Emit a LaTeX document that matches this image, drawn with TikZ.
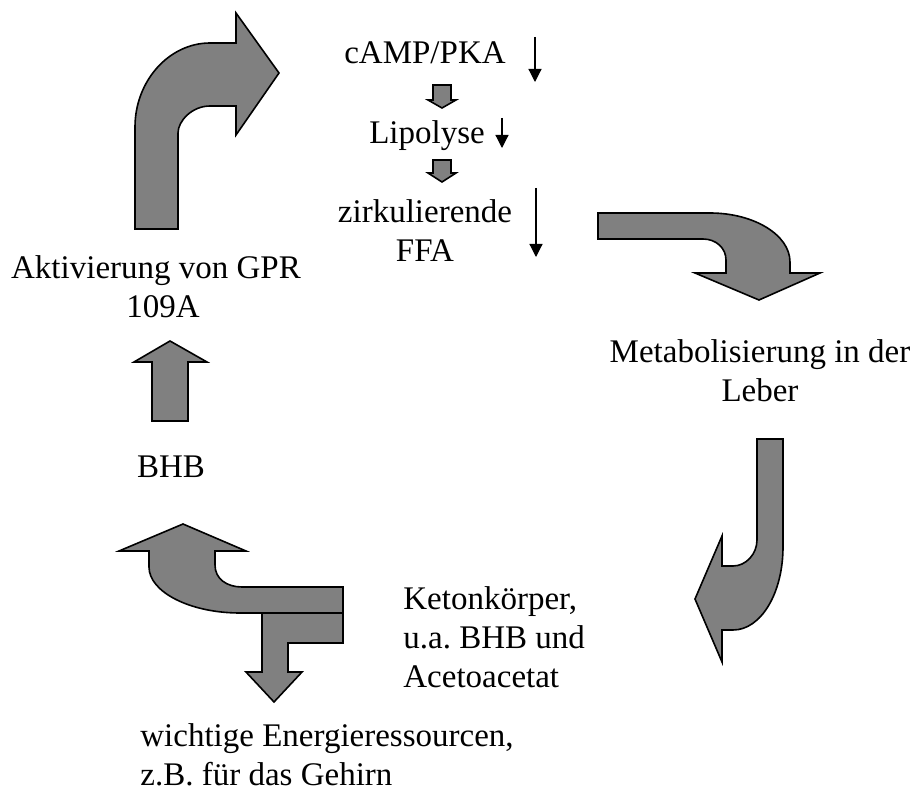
\documentclass[tikz,border=0pt]{standalone}
\usepackage{fontspec}
\setmainfont{Liberation Serif}
\usetikzlibrary{arrows.meta}
\frenchspacing

\begin{document}
\begin{tikzpicture}[x=0.5pt,y=-0.5pt,
  blockarrow/.style={fill=black!50,draw=black,line width=0.8pt,line join=miter},
  thinarrow/.style={line width=0.6pt,-{Triangle[length=6.5pt,width=6.5pt]}},
  label/.style={inner sep=0pt,font=\fontsize{16.5}{19.5}\selectfont}]
\useasboundingbox (0,0) rectangle (917,792);
\draw[blockarrow] (135,229) -- (135,127) .. controls (135,81) and (169,43) .. (210,43) -- (236,43) -- (236,13) -- (279,73) -- (236,135) -- (236,106) -- (210,106) .. controls (192,106) and (178,121) .. (178,133) -- (178,229) -- cycle;
\draw[blockarrow] (598,213) -- (710,213) .. controls (754,213) and (790,235) .. (790,262) -- (790,273) -- (820,273) -- (759,300) -- (695,273) -- (726,273) -- (726,260) .. controls (726,248) and (716,239) .. (703,239) -- (598,239) -- cycle;
\draw[blockarrow] (757,439) -- (783,439) -- (783,547) .. controls (783,593) and (761,630) .. (733,630) -- (722,630) -- (722,662) -- (695,599) -- (722,536) -- (722,566) -- (733,566) .. controls (746,566) and (757,554) .. (757,540) -- cycle;
\draw[blockarrow] (343,587) -- (242,587) .. controls (227,587) and (215,579) .. (215,565) -- (215,551) -- (246,551) -- (183,524) -- (119,551) -- (149,551) -- (149,567) .. controls (149,592) and (190,613) .. (240,613) -- (343,613) -- cycle;
\draw[blockarrow] (262,613) -- (343,613) -- (343,643) -- (288,643) -- (288,672) -- (302,672) -- (274,702) -- (246,672) -- (262,672) -- cycle;
\draw[blockarrow] (152,421) -- (152,362) -- (134,362) -- (170,341) -- (207,362) -- (188,362) -- (188,421) -- cycle;
\draw[blockarrow] (433,85) -- (451,85) -- (451,100) -- (456,100) -- (442,108) -- (428,100) -- (433,100) -- cycle;
\draw[blockarrow] (433,160) -- (451,160) -- (451,173) -- (456,173) -- (442,182) -- (428,173) -- (433,173) -- cycle;
\node[label,anchor=base] (camp) at (425,64) {cAMP/PKA};
\node[label,anchor=base] (lipo) at (427,144) {Lipolyse};
\node[label,anchor=base,align=center] (ffa) at (425,262) {zirkulierende\\FFA};
\node[label,anchor=base,align=center] (gpr) at (156,317) {Aktivierung von GPR\\\hspace*{7pt}109A};
\node[label,anchor=base,align=center] (leber) at (760,401) {Metabolisierung in der\\Leber};
\node[label,anchor=base] (bhb) at (171,477) {BHB};
\node[label,anchor=base west,align=left] (keton) at (403,687) {Ketonkörper,\\u.a. BHB und\\Acetoacetat};
\node[label,anchor=base west,align=left] (energie) at (140,785) {wichtige Energieressourcen,\\z.B. für das Gehirn};
\coordinate (campa) at (535,37);
\coordinate (campb) at (535,82);
\coordinate (lipoa) at (502,118);
\coordinate (lipob) at (502,148);
\coordinate (ffaa) at (536,188);
\coordinate (ffab) at (536,257);
\draw[thinarrow] (campa) -- (campb);
\draw[thinarrow] (lipoa) -- (lipob);
\draw[thinarrow] (ffaa) -- (ffab);
\end{tikzpicture}
\end{document}
